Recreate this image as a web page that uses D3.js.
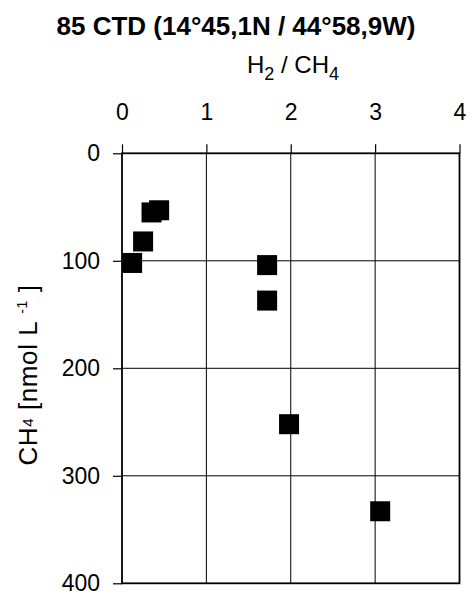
<!DOCTYPE html>
<html>
<head>
<meta charset="utf-8">
<script src="https://cdn.jsdelivr.net/npm/d3@7"></script>
<style>
  body { margin: 0; background: #fff; }
  text { font-family: "Liberation Sans", Arial, sans-serif; fill: #000; }
</style>
</head>
<body>
<svg id="chart" width="470" height="591"></svg>
<script>
// values
const ratioH2CH4 = [0.12, 0.25, 0.35, 0.44, 1.72, 1.72, 1.98, 3.06];
const ch4Conc = [102, 82, 55, 53, 104, 137, 252, 333];
const xTicks = [0, 1, 2, 3, 4];
const yTicks = [0, 100, 200, 300, 400];

const points = ratioH2CH4.map((r, i) => ({x: r, y: ch4Conc[i]}));

const svg = d3.select('#chart');
const plotL = 122, plotT = 153.3, plotR = 459.5, plotB = 583.3;

const x = d3.scaleLinear().domain([0, 4]).range([plotL, plotR]);
const y = d3.scaleLinear().domain([0, 400]).range([plotT, plotB]);

// title
svg.append('text')
    .attr('x', 236).attr('y', 35)
    .attr('text-anchor', 'middle')
    .style('font-size', '26px').style('font-weight', 'bold')
    .text('85 CTD (14°45,1N / 44°58,9W)');

// x axis title  H2 / CH4
const xt = svg.append('text')
    .attr('x', 293).attr('y', 73)
    .attr('text-anchor', 'middle')
    .style('font-size', '24px');
xt.append('tspan').text('H');
xt.append('tspan').attr('dy', 7).style('font-size', '18px').text('2');
xt.append('tspan').attr('dy', -7).text(' / CH');
xt.append('tspan').attr('dy', 7).style('font-size', '18px').text('4');

// y axis title  CH4 [nmol L-1]
const yt = svg.append('text')
    .attr('transform', 'translate(37,375) rotate(-90)')
    .attr('text-anchor', 'middle')
    .style('font-size', '26px')
    .style('letter-spacing', '0.6px');
yt.append('tspan').text('CH');
yt.append('tspan').attr('dy', -4).style('font-size', '15px').text('4');
yt.append('tspan').attr('dy', 4).text(' [nmol L  ');
yt.append('tspan').attr('dy', -10).style('font-size', '14px').text('-1');
yt.append('tspan').attr('dy', 10).text(' ]');

// grid
const grid = svg.append('g').attr('class', 'grid');
grid.selectAll('line.v')
    .data(xTicks.slice(1, -1))
    .enter().append('line')
        .attr('class', 'v')
        .attr('x1', d => x(d)).attr('x2', d => x(d))
        .attr('y1', plotT).attr('y2', plotB)
        .attr('stroke', '#000').attr('stroke-width', 1);
grid.selectAll('line.h')
    .data(yTicks.slice(1, -1))
    .enter().append('line')
        .attr('class', 'h')
        .attr('y1', d => y(d)).attr('y2', d => y(d))
        .attr('x1', plotL).attr('x2', plotR)
        .attr('stroke', '#000').attr('stroke-width', 1);

// axes (ticks outward)
const xAxisG = svg.append('g')
    .attr('transform', 'translate(0,' + plotT + ')')
    .call(d3.axisTop(x).tickValues(xTicks).tickSize(9).tickPadding(24).tickFormat(d3.format('d')));
const yAxisG = svg.append('g')
    .attr('transform', 'translate(' + plotL + ',0)')
    .call(d3.axisLeft(y).tickValues(yTicks).tickSize(9).tickPadding(13).tickFormat(d3.format('d')));

[xAxisG, yAxisG].forEach(g => {
    g.select('.domain').remove();
    g.selectAll('line').attr('stroke', '#000').attr('stroke-width', 1.2);
    g.selectAll('text')
        .style('font-size', '23px')
        .style('font-family', '"Liberation Sans", Arial, sans-serif');
});

// frame
svg.append('rect')
    .attr('x', plotL).attr('y', plotT)
    .attr('width', plotR - plotL).attr('height', plotB - plotT)
    .attr('fill', 'none').attr('stroke', '#000').attr('stroke-width', 1.8);

// data squares
const sz = 20;
svg.append('g').selectAll('rect')
    .data(points)
    .enter().append('rect')
        .attr('x', d => x(d.x) - sz / 2)
        .attr('y', d => y(d.y) - sz / 2)
        .attr('width', sz).attr('height', sz)
        .attr('fill', '#000');
</script>
</body>
</html>
